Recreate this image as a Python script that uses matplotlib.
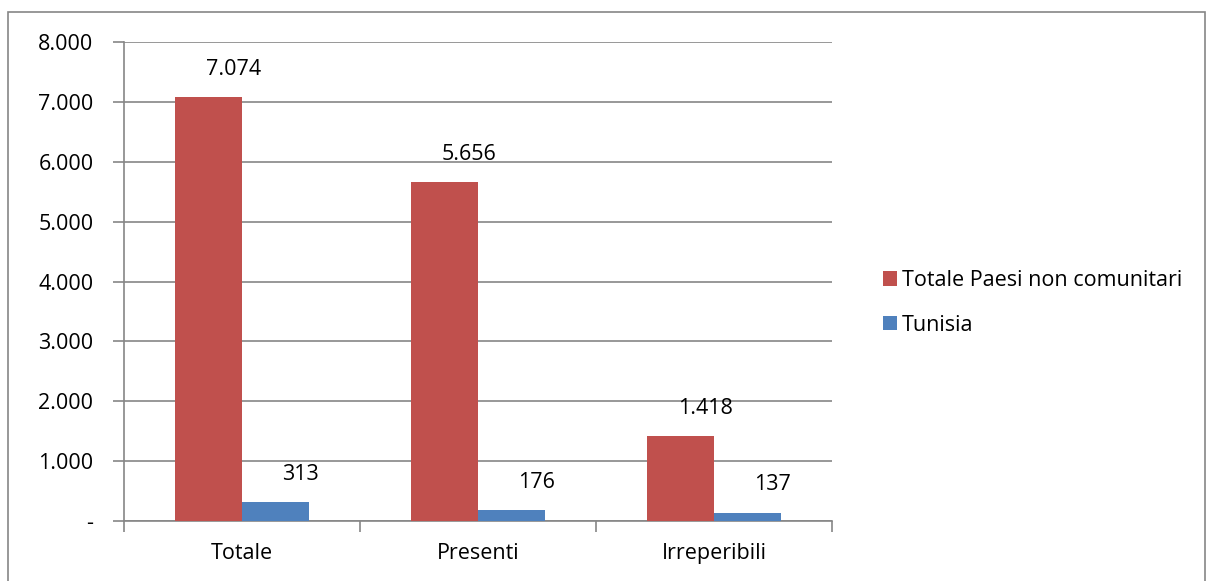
import numpy as np
import matplotlib.pyplot as plt
from matplotlib.patches import Rectangle
from matplotlib.ticker import FuncFormatter

categories = ["Totale", "Presenti", "Irreperibili"]
totale_paesi = [7074, 5656, 1418]
tunisia = [313, 176, 137]
series_names = ["Totale Paesi non comunitari", "Tunisia"]

plt.rcParams['font.family'] = ['Open Sans', 'DejaVu Sans']

red = "#C0504D"
blue = "#4F81BD"
grey = "#868686"
fs = 15.5

def fmt(v):
    return f"{int(round(v)):,}".replace(",", ".")

fig = plt.figure(figsize=(12.13, 5.81), dpi=100)
ax = fig.add_axes([124/1213, 1 - 521/581, 708/1213, 479/581])

x = np.arange(len(categories))
w = 0.284
b1 = ax.bar(x - w/2, totale_paesi, w, color=red, label=series_names[0], zorder=3)
b2 = ax.bar(x + w/2, tunisia, w, color=blue, label=series_names[1], zorder=3)

# etichette dati spostate a destra come in Excel
for bars, vals in ((b1, totale_paesi), (b2, tunisia)):
    for r, v in zip(bars, vals):
        ax.annotate(fmt(v), (r.get_x() + r.get_width()/2, v),
                    xytext=(25, 28), textcoords="offset pixels",
                    ha="center", va="center", fontsize=fs, color="black")

ax.set_xlim(-0.5, 2.5)
ax.set_ylim(0, 8000)
ax.set_yticks(np.arange(0, 8001, 1000))
ax.yaxis.set_major_formatter(FuncFormatter(lambda v, p: "-" if v == 0 else fmt(v)))
ax.yaxis.grid(True, color=grey, linewidth=1.2, zorder=0)
ax.tick_params(axis="y", length=8, width=1.2, color=grey, labelsize=fs, pad=14)

ax.set_xticks(x)
ax.set_xticklabels(categories)
ax.set_xticks([-0.5, 0.5, 1.5, 2.5], minor=True)
ax.tick_params(axis="x", which="major", length=0, labelsize=fs, pad=16)
ax.tick_params(axis="x", which="minor", length=8, width=1.2, color=grey)

for s in ("top", "right"):
    ax.spines[s].set_visible(False)
for s in ("left", "bottom"):
    ax.spines[s].set_color(grey)
    ax.spines[s].set_linewidth(1.2)

fig.legend(handles=[b1, b2], loc="center left", bbox_to_anchor=(874/1213, 1 - 303/581),
           frameon=False, fontsize=fs, handlelength=0.65, handleheight=0.65,
           handletextpad=0.25, labelspacing=1.1, borderaxespad=0)

fig.patches.append(Rectangle((8/1213, -0.01), 1197/1213, 1 - 12/581 + 0.01,
                             transform=fig.transFigure, fill=False,
                             edgecolor=grey, linewidth=1.2))

fig.savefig("out.png", dpi=100)
